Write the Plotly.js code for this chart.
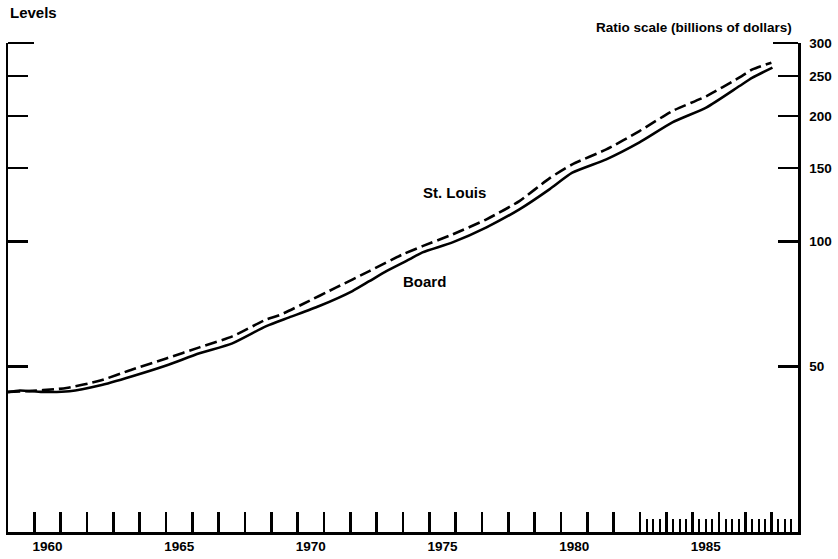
<!DOCTYPE html>
<html>
<head>
<meta charset="utf-8">
<script src="https://cdn.plot.ly/plotly-3.0.1.min.js"></script>
<style>
  html, body { margin: 0; padding: 0; background: #fff; }
  #chart { width: 838px; height: 559px; }
</style>
</head>
<body>
<div id="chart"></div>
<script>
// Monetary base levels, billions of dollars (ratio scale)
const boardYears = [1959.0, 1959.45, 1960.3, 1961.33, 1962.47, 1963.72, 1965.01, 1966.27, 1967.52,
  1968.81, 1969.68, 1970.82, 1972.08, 1972.72, 1973.37, 1974.24, 1974.74, 1975.88, 1977.17,
  1978.42, 1979.56, 1980.43, 1981.72, 1982.98, 1984.23, 1985.53, 1986.78, 1987.27, 1988.03];
const boardLevels = [43.4, 43.8, 43.45, 43.6, 45.0, 47.4, 50.3, 53.8, 56.85,
  62.55, 65.65, 69.9, 75.95, 80.2, 84.8, 90.5, 94.1, 99.45, 108.1,
  119.4, 133.4, 146.3, 157.5, 173.0, 193.3, 210.1, 236.4, 247.6, 261.7];

const stlYears = [1959.0, 1959.92, 1960.76, 1961.22, 1962.47, 1963.72, 1965.01, 1966.27, 1967.52,
  1968.81, 1969.30, 1970.18, 1971.47, 1972.72, 1973.98, 1974.74, 1975.88, 1977.17, 1978.42,
  1979.56, 1980.43, 1981.72, 1982.98, 1984.23, 1985.53, 1986.78, 1987.27, 1987.99];
const stlLevels = [43.45, 43.7, 44.1, 44.4, 46.2, 49.2, 52.3, 55.6, 59.1,
  64.9, 66.4, 70.6, 77.5, 84.8, 93.0, 97.4, 103.9, 113.0, 125.0,
  141.8, 153.2, 166.4, 184.2, 205.8, 223.6, 248.0, 259.3, 269.0];

// Axis ticks and labels
const yearTicks = [];
for (let y = 1960; y <= 1988; y++) yearTicks.push(y);
const quarterTicks = [];
for (let q = 1983.25; q < 1989; q += 0.25) if (q % 1 !== 0) quarterTicks.push(q);
const yearLabelPos = [1960.5, 1965.5, 1970.5, 1975.5, 1980.5, 1985.5];
const yearLabels = ['1960', '1965', '1970', '1975', '1980', '1985'];
const levelTicks = [50, 100, 150, 200, 250];
const topTick = [300];
const rightTicks = [50, 100, 150, 200, 250, 300];
const rightLabels = ['50', '100', '150', '200', '250', '300'];

const FONT = 'Liberation Sans, Arial, Helvetica, sans-serif';

// Plot frame: main axes span 489 px (20 .. 300); the frame is 10 px taller so the
// separate top-tick axes keep 300 away from their edge (edge ticks are dropped).
const frameH = 499, mainH = 489;
const yLo = Math.log10(20), yHi = Math.log10(300);
const yRange = [yLo, yHi];
const pxPerDecade = mainH / (yHi - yLo);
const yRangeTall = [yLo, yLo + frameH / pxPerDecade];
const mainDomain = [0, mainH / frameH];
const xRange = [1959, 1989];

const lineW = 2.6;

const traces = [
  {
    x: stlYears, y: stlLevels, type: 'scatter', mode: 'lines', name: 'St. Louis',
    line: { color: '#000', width: lineW, dash: '12px,5px', shape: 'spline', smoothing: 0.6 },
    hoverinfo: 'skip', showlegend: false, xaxis: 'x', yaxis: 'y'
  },
  {
    x: boardYears, y: boardLevels, type: 'scatter', mode: 'lines', name: 'Board',
    line: { color: '#000', width: lineW, shape: 'spline', smoothing: 0.6 },
    hoverinfo: 'skip', showlegend: false, xaxis: 'x', yaxis: 'y'
  },
  // empty traces so the extra axes are drawn
  { x: [], y: [], type: 'scatter', xaxis: 'x2', yaxis: 'y2', showlegend: false, hoverinfo: 'skip' },
  { x: [], y: [], type: 'scatter', xaxis: 'x', yaxis: 'y3', showlegend: false, hoverinfo: 'skip' },
  { x: [], y: [], type: 'scatter', xaxis: 'x', yaxis: 'y4', showlegend: false, hoverinfo: 'skip' }
];

const tickFont = { family: FONT, size: 13.5, color: '#000', weight: 'bold' };

const layout = {
  width: 838, height: 559,
  margin: { l: 8, r: 40, t: 559 - 27 - frameH, b: 27 },
  paper_bgcolor: '#fff', plot_bgcolor: 'rgba(0,0,0,0)',
  showlegend: false,
  xaxis: {
    range: xRange, showgrid: false, zeroline: false,
    showline: true, linecolor: '#000', linewidth: 2.5,
    tickmode: 'array', tickvals: yearTicks, showticklabels: false,
    ticks: 'inside', ticklen: 20, tickwidth: 2.5, tickcolor: '#000',
    minor: { tickmode: 'array', tickvals: quarterTicks, ticks: 'inside', ticklen: 13, tickwidth: 2, tickcolor: '#000', showgrid: false }
  },
  xaxis2: {
    range: xRange, overlaying: 'x', anchor: 'y', side: 'bottom',
    showgrid: false, zeroline: false, showline: false,
    tickmode: 'array', tickvals: yearLabelPos, ticktext: yearLabels,
    ticks: '', tickfont: tickFont, ticklabelstandoff: 4
  },
  yaxis: {
    type: 'log', range: yRange, domain: mainDomain, side: 'left',
    showgrid: false, zeroline: false,
    showline: true, linecolor: '#000', linewidth: 2.5,
    tickmode: 'array', tickvals: levelTicks, showticklabels: false,
    ticks: 'inside', ticklen: 20, tickwidth: 2.5, tickcolor: '#000'
  },
  yaxis2: {
    type: 'log', range: yRange, overlaying: 'y', side: 'right', anchor: 'x2',
    showgrid: false, zeroline: false,
    showline: true, linecolor: '#000', linewidth: 2.5,
    tickmode: 'array', tickvals: rightTicks, ticktext: rightLabels,
    ticks: 'inside', ticklen: 20, tickwidth: 2.5, tickcolor: '#000',
    tickfont: tickFont, ticklabelstandoff: 6
  },
  yaxis3: {
    type: 'log', range: yRangeTall, domain: [0, 1], side: 'left', anchor: 'x',
    showgrid: false, zeroline: false, showline: false,
    tickmode: 'array', tickvals: topTick, showticklabels: false,
    ticks: 'inside', ticklen: 26, tickwidth: 2.5, tickcolor: '#000'
  },
  yaxis4: {
    type: 'log', range: yRangeTall, domain: [0, 1], side: 'right', anchor: 'x',
    showgrid: false, zeroline: false, showline: false,
    tickmode: 'array', tickvals: topTick, showticklabels: false,
    ticks: 'inside', ticklen: 25, tickwidth: 2.5, tickcolor: '#000'
  },
  annotations: [
    {
      text: 'Levels', xref: 'paper', yref: 'paper', x: 0, y: (532 - 13) / frameH,
      xanchor: 'left', yanchor: 'middle', showarrow: false,
      font: { family: FONT, size: 15, color: '#000', weight: 'bold' }
    },
    {
      text: 'Ratio scale (billions of dollars)', xref: 'paper', yref: 'paper',
      x: (794 - 8) / 790, y: (532 - 27.5) / frameH,
      xanchor: 'right', yanchor: 'middle', showarrow: false,
      font: { family: FONT, size: 13.5, color: '#000', weight: 'bold' }
    },
    {
      text: 'St. Louis', xref: 'x', yref: 'y', x: 1975.95, y: Math.log10(131.2),
      xanchor: 'center', yanchor: 'middle', showarrow: false,
      font: { family: FONT, size: 15, color: '#000', weight: 'bold' }
    },
    {
      text: 'Board', xref: 'x', yref: 'y', x: 1974.81, y: Math.log10(80.1),
      xanchor: 'center', yanchor: 'middle', showarrow: false,
      font: { family: FONT, size: 15, color: '#000', weight: 'bold' }
    }
  ]
};

Plotly.newPlot('chart', traces, layout, { staticPlot: true, displayModeBar: false });
</script>
</body>
</html>
